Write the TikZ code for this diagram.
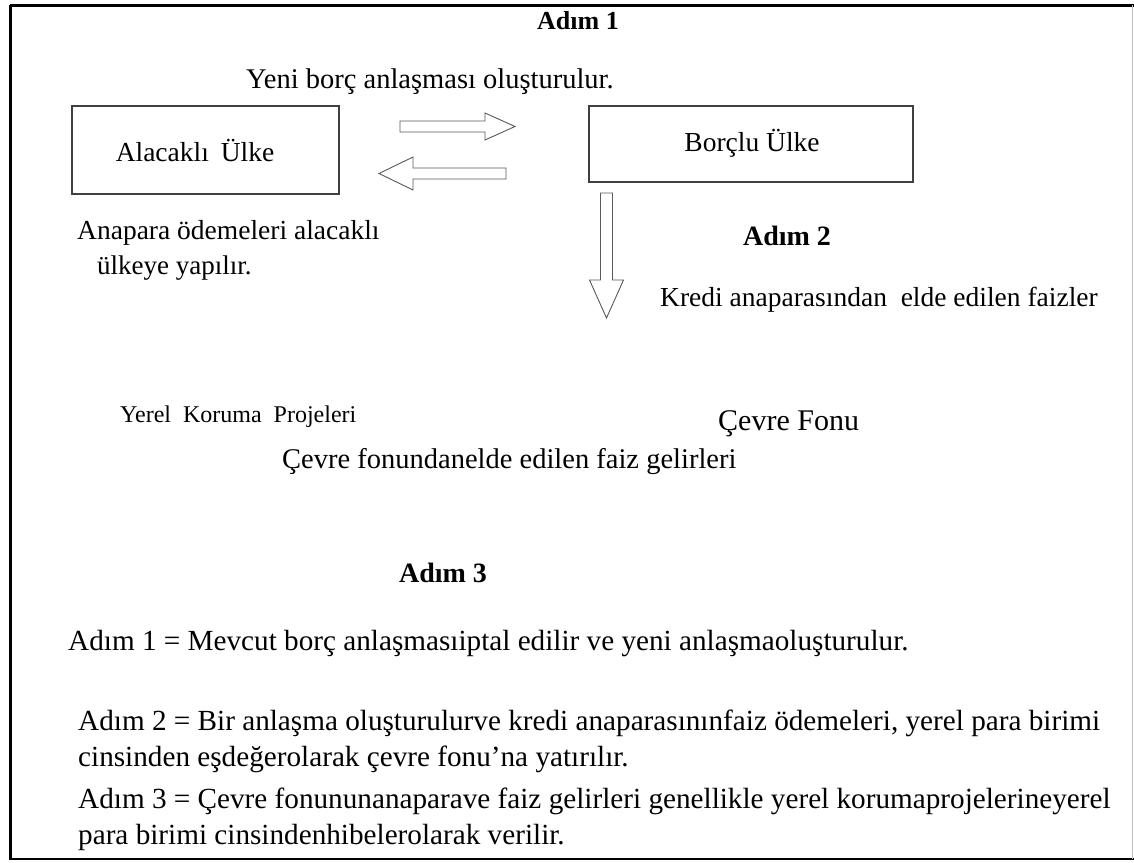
\documentclass[tikz,border=0pt]{standalone}
\usepackage{fontspec}
\setmainfont{Liberation Serif}
\begin{document}
\begin{tikzpicture}[x=1pt,y=-1pt,
  box/.style={draw=black!75,line width=1.1pt,rectangle,inner sep=0pt},
  blockarrow/.style={draw=black!65,line width=0.9pt,fill=white,line join=miter},
  txt/.style={inner sep=0pt,font=\fontsize{27.5}{32}\selectfont},
  bigtxt/.style={inner sep=0pt,font=\fontsize{29.2}{34}\selectfont},
  smalltxt/.style={inner sep=0pt,font=\fontsize{24}{28}\selectfont},
  boldtxt/.style={inner sep=0pt,font=\fontsize{28}{32}\selectfont\bfseries}]
\useasboundingbox (0,0) rectangle (1134,862);
% frame
\draw[line width=3pt] (10,5) -- (1134,5);
\draw[line width=3pt] (10,5) -- (10,860);
\draw[line width=2pt] (10,859) -- (1134,859);
\draw[line width=1pt,black!25] (1132,5) -- (1132,859);
% boxes
\node[box,minimum width=267pt,minimum height=88pt] (alacakli) at (205.5,150) {};
\node[txt] (alacaklitxt) at (195,150) {Alacaklı\hspace{5pt} Ülke};
\node[box,minimum width=324pt,minimum height=76pt] (borclu) at (751,144) {};
\node[txt] (borclutxt) at (752,143) {Borçlu Ülke};
% block arrows
\coordinate (ra) at (400,126.5);
\draw[blockarrow] (ra) ++(0,-5.5) -- ++(85,0) -- ++(0,-8) -- ++(30,13.5) -- ++(-30,13.5) -- ++(0,-8) -- ++(-85,0) -- cycle;
\coordinate (la) at (379,173.5);
\draw[blockarrow] (la) -- ++(34,-16.5) -- ++(0,11) -- ++(93,0) -- ++(0,11) -- ++(-93,0) -- ++(0,11) -- cycle;
\coordinate (da) at (606.5,318);
\draw[blockarrow] (da) -- ++(-17,-38) -- ++(11,0) -- ++(0,-87) -- ++(12,0) -- ++(0,87) -- ++(11,0) -- cycle;
% texts
\node[boldtxt,font=\fontsize{26}{30}\selectfont\bfseries] (adim1) at (578,21) {Adım 1};
\node[txt,font=\fontsize{28.5}{33}\selectfont,anchor=west] (yeni) at (246,82) {Yeni\ borç\ anlaşması\ oluşturulur.};
\node[txt,anchor=west] (anapara) at (77,233) {Anapara ödemeleri alacaklı};
\node[txt,font=\fontsize{27}{31}\selectfont,anchor=west] (ulkeye) at (97,268) {ülkeye yapılır.};
\node[boldtxt] (adim2) at (787,236) {Adım 2};
\node[txt,anchor=west] (kredi) at (660,300) {Kredi anaparasından\ \ elde edilen faizler};
\node[smalltxt,anchor=west] (yerel) at (120,417) {Yerel\ \ Koruma\ \ Projeleri};
\node[txt,font=\fontsize{30}{34}\selectfont,anchor=west] (cevrefonu) at (718,424) {Çevre Fonu};
\node[txt,font=\fontsize{28.5}{33}\selectfont,anchor=west] (cevrefaiz) at (282,462) {Çevre fonundanelde edilen faiz gelirleri};
\node[boldtxt] (adim3) at (443,573) {Adım 3};
\node[bigtxt,anchor=west] (s1) at (68,644) {Adım 1 = Mevcut borç anlaşmasıiptal edilir ve yeni anlaşmaoluşturulur.};
\node[bigtxt,anchor=west] (s2a) at (78,723) {Adım 2 = Bir anlaşma oluşturulurve kredi anaparasınınfaiz ödemeleri, yerel para birimi};
\node[bigtxt,anchor=west] (s2b) at (78,759) {cinsinden eşdeğerolarak çevre fonu’na yatırılır.};
\node[bigtxt,anchor=west] (s3a) at (78,801) {Adım 3 = Çevre fonununanaparave faiz gelirleri genellikle yerel korumaprojelerineyerel};
\node[bigtxt,anchor=west] (s3b) at (78,837) {para birimi cinsindenhibelerolarak verilir.};
\end{tikzpicture}
\end{document}
